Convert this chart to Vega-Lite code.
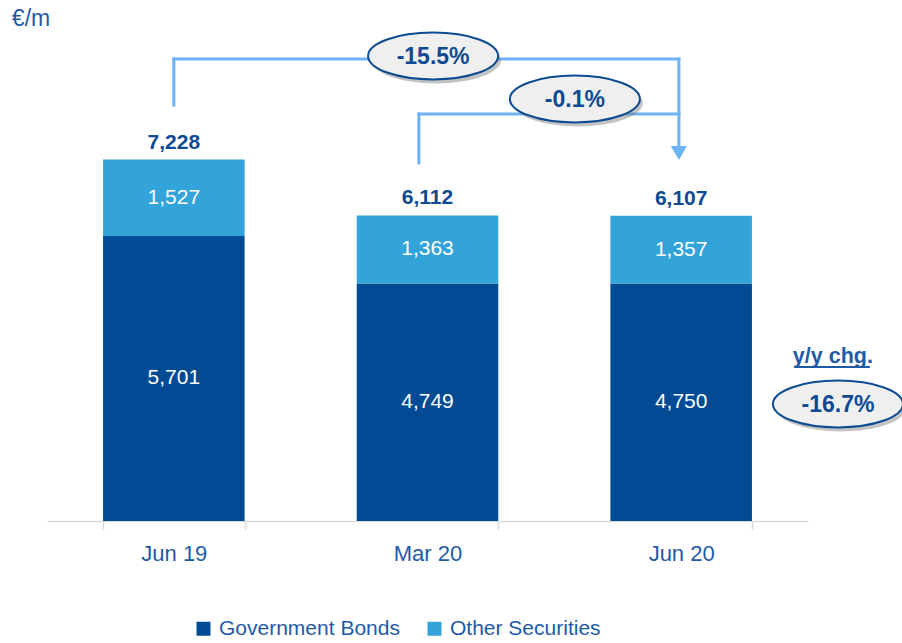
{
  "$schema": "https://vega.github.io/schema/vega-lite/v6.json",
  "width": 761,
  "height": 500,
  "autosize": {"type": "none"},
  "padding": {"left": 47, "top": 21, "right": 94, "bottom": 122},
  "background": "white",
  "config": {
    "view": {"stroke": null},
    "font": "Liberation Sans, Arial, sans-serif",
    "axis": {"domainColor": "#D9D9D9", "domainWidth": 1.5, "tickColor": "#D9D9D9", "tickWidth": 1.5, "tickSize": 8, "grid": false}
  },
  "datasets": {
    "bars": [
      {"period": "Jun 19", "series": "Government Bonds", "value": 5701},
      {"period": "Jun 19", "series": "Other Securities", "value": 1527},
      {"period": "Mar 20", "series": "Government Bonds", "value": 4749},
      {"period": "Mar 20", "series": "Other Securities", "value": 1363},
      {"period": "Jun 20", "series": "Government Bonds", "value": 4750},
      {"period": "Jun 20", "series": "Other Securities", "value": 1357}
    ],
    "links": [
      {"x1": 0.5, "x2": 0.5, "y1": 8320, "y2": 9240},
      {"x1": 0.5, "x2": 2.491, "y1": 9240, "y2": 9240},
      {"x1": 2.491, "x2": 2.491, "y1": 9240, "y2": 7420},
      {"x1": 1.466, "x2": 1.466, "y1": 7160, "y2": 8140},
      {"x1": 1.466, "x2": 2.491, "y1": 8140, "y2": 8140}
    ],
    "arrow": [{"x": 2.491, "y": 7360}],
    "bubbles": [
      {"x": 1.522, "y": 9300, "label": "-15.5%"},
      {"x": 2.081, "y": 8440, "label": "-0.1%"},
      {"x": 3.118, "y": 2340, "label": "-16.7%"}
    ],
    "unit": [{"x": -0.063, "y": 9900, "label": "€/m"}],
    "yy": [{"x": 3.098, "y": 3160, "label": "y/y chg."}],
    "underline": [{"x1": 2.953, "x2": 3.244, "y": 3080}]
  },
  "layer": [
    {
      "data": {"name": "bars"},
      "encoding": {
        "x": {
          "field": "period", "type": "nominal", "sort": ["Jun 19", "Mar 20", "Jun 20"],
          "scale": {"paddingInner": 0.442, "paddingOuter": 0.221},
          "axis": {"title": null, "labelAngle": 0, "tickBand": "extent", "labelFontSize": 22, "labelColor": "#1F5AA6", "labelPadding": 14}
        }
      },
      "layer": [
        {
          "mark": {"type": "bar"},
          "encoding": {
            "y": {"field": "value", "type": "quantitative", "stack": "zero", "scale": {"domain": [0, 10000], "nice": false}, "axis": null},
            "order": {"field": "series", "sort": "ascending"},
            "color": {
              "field": "series", "type": "nominal",
              "scale": {"domain": ["Government Bonds", "Other Securities"], "range": ["#004B93", "#33A4DA"]},
              "legend": {
                "orient": "none", "legendX": 146, "legendY": 597, "direction": "horizontal", "title": null,
                "symbolType": "square", "symbolSize": 196, "symbolStrokeWidth": 0, "labelFontSize": 21,
                "labelColor": "#1F5AA6", "labelLimit": 400, "columnPadding": 24, "labelOffset": 5
              }
            }
          }
        },
        {
          "transform": [
            {"stack": "value", "groupby": ["period"], "sort": [{"field": "series", "order": "ascending"}], "as": ["v0", "v1"]},
            {"fold": ["v0", "v1"], "as": ["edge", "pos"]},
            {"aggregate": [{"op": "mean", "field": "pos", "as": "mid"}], "groupby": ["period", "series", "value"]}
          ],
          "mark": {"type": "text", "color": "white", "fontSize": 21, "baseline": "middle", "align": "center"},
          "encoding": {
            "y": {"field": "mid", "type": "quantitative", "scale": {"domain": [0, 10000], "nice": false}, "axis": null},
            "text": {"field": "value", "type": "quantitative", "format": ","}
          }
        },
        {
          "transform": [
            {"aggregate": [{"op": "sum", "field": "value", "as": "total"}], "groupby": ["period"]}
          ],
          "mark": {"type": "text", "color": "#0D4A93", "fontSize": 21, "fontWeight": "bold", "baseline": "alphabetic", "align": "center", "dy": -11},
          "encoding": {
            "y": {"field": "total", "type": "quantitative", "scale": {"domain": [0, 10000], "nice": false}, "axis": null},
            "text": {"field": "total", "type": "quantitative", "format": ","}
          }
        }
      ]
    },
    {
      "layer": [
        {
          "data": {"name": "links"},
          "mark": {"type": "rule", "color": "#6CB4F7", "strokeWidth": 3, "strokeCap": "square"},
          "encoding": {
            "x": {"field": "x1", "type": "quantitative", "scale": {"domain": [0, 3], "nice": false, "zero": false}, "axis": null},
            "x2": {"field": "x2"},
            "y": {"field": "y1", "type": "quantitative", "scale": {"domain": [0, 10000], "nice": false}, "axis": null},
            "y2": {"field": "y2"}
          }
        },
        {
          "data": {"name": "arrow"},
          "mark": {"type": "point", "shape": "triangle-down", "filled": true, "color": "#6CB4F7", "size": 260, "opacity": 1},
          "encoding": {
            "x": {"field": "x", "type": "quantitative", "scale": {"domain": [0, 3], "nice": false, "zero": false}, "axis": null},
            "y": {"field": "y", "type": "quantitative", "scale": {"domain": [0, 10000], "nice": false}, "axis": null}
          }
        },
        {
          "data": {"name": "bubbles"},
          "mark": {"type": "point", "shape": "M -1 0 C -1 -0.199 -0.552 -0.36 0 -0.36 C 0.552 -0.36 1 -0.199 1 0 C 1 0.199 0.552 0.36 0 0.36 C -0.552 0.36 -1 0.199 -1 0 Z", "filled": true, "color": "#7a7a7a", "opacity": 0.45, "size": 16900, "xOffset": 3, "yOffset": 4},
          "encoding": {
            "x": {"field": "x", "type": "quantitative", "scale": {"domain": [0, 3], "nice": false, "zero": false}, "axis": null},
            "y": {"field": "y", "type": "quantitative", "scale": {"domain": [0, 10000], "nice": false}, "axis": null}
          }
        },
        {
          "data": {"name": "bubbles"},
          "mark": {"type": "point", "shape": "M -1 0 C -1 -0.199 -0.552 -0.36 0 -0.36 C 0.552 -0.36 1 -0.199 1 0 C 1 0.199 0.552 0.36 0 0.36 C -0.552 0.36 -1 0.199 -1 0 Z", "filled": true, "fill": "#EFEFEF", "stroke": "#0E4C92", "strokeWidth": 2, "opacity": 1, "size": 16900},
          "encoding": {
            "x": {"field": "x", "type": "quantitative", "scale": {"domain": [0, 3], "nice": false, "zero": false}, "axis": null},
            "y": {"field": "y", "type": "quantitative", "scale": {"domain": [0, 10000], "nice": false}, "axis": null}
          }
        },
        {
          "data": {"name": "bubbles"},
          "mark": {"type": "text", "color": "#0D4A93", "fontSize": 23, "fontWeight": "bold", "baseline": "middle", "align": "center", "dy": 1},
          "encoding": {
            "x": {"field": "x", "type": "quantitative", "scale": {"domain": [0, 3], "nice": false, "zero": false}, "axis": null},
            "y": {"field": "y", "type": "quantitative", "scale": {"domain": [0, 10000], "nice": false}, "axis": null},
            "text": {"field": "label", "type": "nominal"}
          }
        },
        {
          "data": {"name": "unit"},
          "mark": {"type": "text", "color": "#1F5AA6", "fontSize": 23, "baseline": "alphabetic", "align": "center"},
          "encoding": {
            "x": {"field": "x", "type": "quantitative", "scale": {"domain": [0, 3], "nice": false, "zero": false}, "axis": null},
            "y": {"field": "y", "type": "quantitative", "scale": {"domain": [0, 10000], "nice": false}, "axis": null},
            "text": {"field": "label", "type": "nominal"}
          }
        },
        {
          "data": {"name": "yy"},
          "mark": {"type": "text", "color": "#1F5AA6", "fontSize": 21.5, "fontWeight": "bold", "baseline": "alphabetic", "align": "center"},
          "encoding": {
            "x": {"field": "x", "type": "quantitative", "scale": {"domain": [0, 3], "nice": false, "zero": false}, "axis": null},
            "y": {"field": "y", "type": "quantitative", "scale": {"domain": [0, 10000], "nice": false}, "axis": null},
            "text": {"field": "label", "type": "nominal"}
          }
        },
        {
          "data": {"name": "underline"},
          "mark": {"type": "rule", "color": "#1F5AA6", "strokeWidth": 2},
          "encoding": {
            "x": {"field": "x1", "type": "quantitative", "scale": {"domain": [0, 3], "nice": false, "zero": false}, "axis": null},
            "x2": {"field": "x2"},
            "y": {"field": "y", "type": "quantitative", "scale": {"domain": [0, 10000], "nice": false}, "axis": null}
          }
        }
      ]
    }
  ],
  "resolve": {"scale": {"x": "independent"}}
}
